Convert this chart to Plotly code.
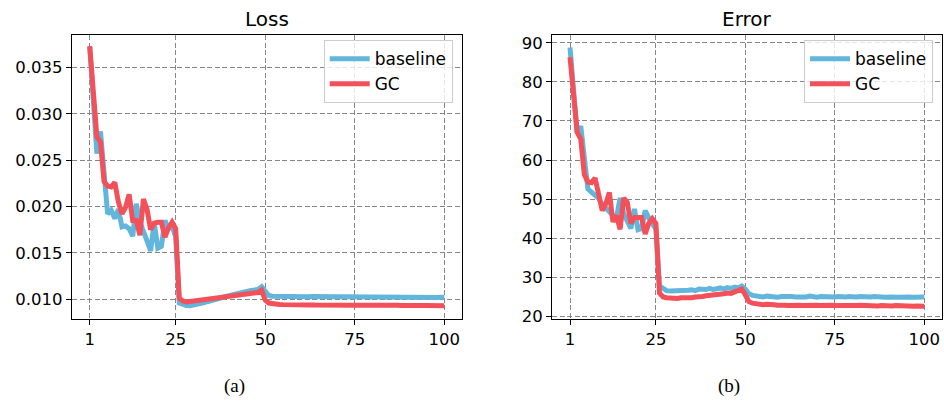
import plotly.graph_objects as go

# ---------------- data ----------------
epochs = list(range(1, 101))

loss_baseline = [
    0.0372, 0.0321, 0.0257, 0.0281, 0.0228, 0.0192, 0.0196, 0.0187, 0.0197, 0.0178,
    0.0179, 0.0176, 0.0168, 0.0203, 0.0183, 0.0171, 0.0163, 0.0152, 0.0183, 0.0155,
    0.0157, 0.0185, 0.0176, 0.0179, 0.0167, 0.0096, 0.0094, 0.00932, 0.00930, 0.00935,
    0.00940, 0.00952, 0.00962, 0.00975, 0.00983, 0.00995, 0.01005, 0.01018, 0.01030, 0.01040,
    0.01052, 0.01062, 0.01075, 0.01082, 0.01088, 0.01094, 0.01098, 0.01105, 0.01135, 0.01080,
    0.01040, 0.01032, 0.01030, 0.01031, 0.01029, 0.01030, 0.01028, 0.01029, 0.01027, 0.01028,
    0.01027, 0.01026, 0.01028, 0.01026, 0.01025, 0.01027, 0.01026, 0.01025, 0.01026, 0.01024,
    0.01025, 0.01026, 0.01024, 0.01025, 0.01023, 0.01025, 0.01024, 0.01023, 0.01024, 0.01022,
    0.01024, 0.01023, 0.01022, 0.01023, 0.01022, 0.01021, 0.01023, 0.01022, 0.01021, 0.01022,
    0.01021, 0.01020, 0.01022, 0.01021, 0.01020, 0.01021, 0.01020, 0.01019, 0.01021, 0.01020,
]

loss_gc = [
    0.0373, 0.0324, 0.0275, 0.0270, 0.0227, 0.0222, 0.0221, 0.0226, 0.0205, 0.0192,
    0.0199, 0.0213, 0.0185, 0.0185, 0.0169, 0.0208, 0.0197, 0.0175, 0.0182, 0.0183,
    0.0183, 0.0167, 0.0177, 0.0183, 0.0176, 0.0101, 0.0098, 0.0097, 0.00975, 0.00972,
    0.00978, 0.00985, 0.00990, 0.00992, 0.00998, 0.01003, 0.01008, 0.01012, 0.01018, 0.01022,
    0.01030, 0.01035, 0.01040, 0.01045, 0.01050, 0.01058, 0.01065, 0.01072, 0.01098, 0.00990,
    0.00958, 0.00950, 0.00945, 0.00943, 0.00941, 0.00942, 0.00940, 0.00939, 0.00940, 0.00938,
    0.00939, 0.00937, 0.00938, 0.00936, 0.00937, 0.00938, 0.00936, 0.00935, 0.00937, 0.00936,
    0.00935, 0.00936, 0.00934, 0.00936, 0.00935, 0.00934, 0.00935, 0.00933, 0.00934, 0.00935,
    0.00933, 0.00934, 0.00932, 0.00934, 0.00933, 0.00932, 0.00933, 0.00931, 0.00933, 0.00932,
    0.00931, 0.00932, 0.00930, 0.00932, 0.00931, 0.00930, 0.00931, 0.00929, 0.00930, 0.00929,
]

error_baseline = [
    88.8, 76.9, 66.8, 68.7, 60.5, 52.6, 51.8, 50.9, 50.2, 48.7,
    47.6, 46.4, 45.8, 45.3, 50.3, 46.3, 44.5, 42.5, 47.5, 42.2,
    42.5, 47.1, 45.2, 43.8, 42.3, 27.8, 27.0, 26.6, 26.5, 26.5,
    26.4, 26.6, 26.4, 26.7, 26.8, 26.6, 27.0, 26.8, 26.9, 27.2,
    26.9, 27.1, 27.3, 27.0, 27.4, 27.2, 27.5, 27.3, 27.8, 27.0,
    25.8, 25.4, 25.2, 25.1, 25.0, 25.2, 25.0, 25.1, 24.9, 25.1,
    25.2, 25.0, 25.1, 25.0, 24.9, 25.1, 25.0, 25.2, 25.0, 24.9,
    25.1, 25.0, 24.9, 25.1, 25.0, 25.1, 24.9, 25.0, 25.1, 24.9,
    25.0, 25.1, 25.0, 24.9, 25.0, 25.1, 24.9, 25.0, 24.9, 25.1,
    25.0, 24.9, 25.0, 25.1, 24.9, 25.0, 24.9, 25.0, 24.9, 25.0,
]

error_gc = [
    86.3, 76.7, 67.1, 65.4, 56.3, 54.4, 54.2, 55.4, 51.3, 47.1,
    48.8, 51.7, 44.2, 45.8, 42.3, 50.3, 49.2, 43.8, 45.3, 45.2,
    45.3, 41.1, 43.8, 45.0, 43.8, 26.0, 25.0, 24.8, 24.7, 24.8,
    24.6, 24.8, 24.7, 24.9, 24.8, 25.0, 24.9, 25.1, 25.3, 25.4,
    25.2, 25.6, 25.5, 25.8, 26.0, 25.9, 26.3, 26.5, 27.0, 25.5,
    23.8, 23.4, 23.2, 23.1, 23.0, 23.1, 22.9, 23.0, 22.9, 23.0,
    22.9, 22.8, 22.9, 23.0, 22.9, 22.8, 22.9, 23.0, 22.8, 22.9,
    22.8, 22.9, 22.8, 22.9, 22.8, 22.7, 22.9, 22.8, 22.8, 22.7,
    22.8, 22.9, 22.8, 22.7, 22.8, 22.8, 22.7, 22.8, 22.7, 22.8,
    22.7, 22.8, 22.7, 22.7, 22.8, 22.7, 22.6, 22.7, 22.7, 22.6,
]

x_ticks = [1, 25, 50, 75, 100]
loss_ticks = [0.010, 0.015, 0.020, 0.025, 0.030, 0.035]
error_ticks = [20, 30, 40, 50, 60, 70, 80, 90]

# ---------------- styling ----------------
# the page adds a little space below the plot div, so the figure itself is
# kept slightly shorter than the 408px window
W, H = 944, 400
BLUE = "#63b6db"
RED = "#f4505a"
FONT = "DejaVu Sans"


def py(pix):
    """paper y from a pixel offset measured from the top"""
    return 1 - pix / H


fig = go.Figure()

series = [
    ("baseline", BLUE, loss_baseline, error_baseline),
    ("GC", RED, loss_gc, error_gc),
]
for name, color, loss, err in series:
    fig.add_trace(go.Scatter(
        x=epochs, y=loss, name=name, mode="lines",
        line=dict(color=color, width=5), xaxis="x", yaxis="y", legend="legend",
    ))
for name, color, loss, err in series:
    fig.add_trace(go.Scatter(
        x=epochs, y=err, name=name, mode="lines",
        line=dict(color=color, width=5), xaxis="x2", yaxis="y2", legend="legend2",
    ))

ydom = [py(324), py(34)]

axis_common = dict(
    showline=True, mirror=True, linecolor="black", linewidth=1.3,
    ticks="outside", ticklen=5, tickwidth=1.3, tickcolor="black",
    showgrid=True, gridcolor="#858585", gridwidth=1.1, griddash="5px,2.5px",
    zeroline=False, tickfont=dict(family=FONT, size=16.5, color="black"),
)

legend_common = dict(
    xanchor="right", yanchor="top",
    bgcolor="rgba(255,255,255,0.8)", bordercolor="#cccccc", borderwidth=1,
    font=dict(family=FONT, size=17, color="black"), itemwidth=40,
    tracegroupgap=0,
)

fig.update_layout(
    width=W, height=H,
    margin=dict(l=0, r=0, t=0, b=0),
    paper_bgcolor="white", plot_bgcolor="white",
    font=dict(family=FONT, size=16.5, color="black"),
    showlegend=True,
    xaxis=dict(domain=[72 / W, 462 / W], range=[-3.95, 104.95],
               tickvals=x_ticks, anchor="y", **axis_common),
    yaxis=dict(domain=ydom, range=[0.00789, 0.03848], tickvals=loss_ticks,
               tickformat=".3f", anchor="x", **axis_common),
    xaxis2=dict(domain=[552.3 / W, 942 / W], range=[-3.95, 104.95],
                tickvals=x_ticks, anchor="y2", **axis_common),
    yaxis2=dict(domain=ydom, range=[19.43, 91.93], tickvals=error_ticks,
                anchor="x2", **axis_common),
    legend=dict(x=452.7 / W, y=py(39), **legend_common),
    legend2=dict(x=933 / W, y=py(39), **legend_common),
)

# panel titles and sub-figure captions
fig.add_annotation(text="Loss", xref="x domain", yref="paper", x=0.5, y=py(17),
                   showarrow=False, yanchor="middle",
                   font=dict(family=FONT, size=20, color="black"))
fig.add_annotation(text="Error", xref="x2 domain", yref="paper", x=0.5, y=py(17),
                   showarrow=False, yanchor="middle",
                   font=dict(family=FONT, size=20, color="black"))
fig.add_annotation(text="(a)", xref="paper", yref="paper", x=234.7 / W, y=py(393),
                   showarrow=False, xanchor="center", yanchor="middle",
                   font=dict(family="Liberation Serif", size=19, color="black"))
fig.add_annotation(text="(b)", xref="paper", yref="paper", x=729 / W, y=py(393),
                   showarrow=False, xanchor="center", yanchor="middle",
                   font=dict(family="Liberation Serif", size=19, color="black"))

fig.write_html("out.html")
